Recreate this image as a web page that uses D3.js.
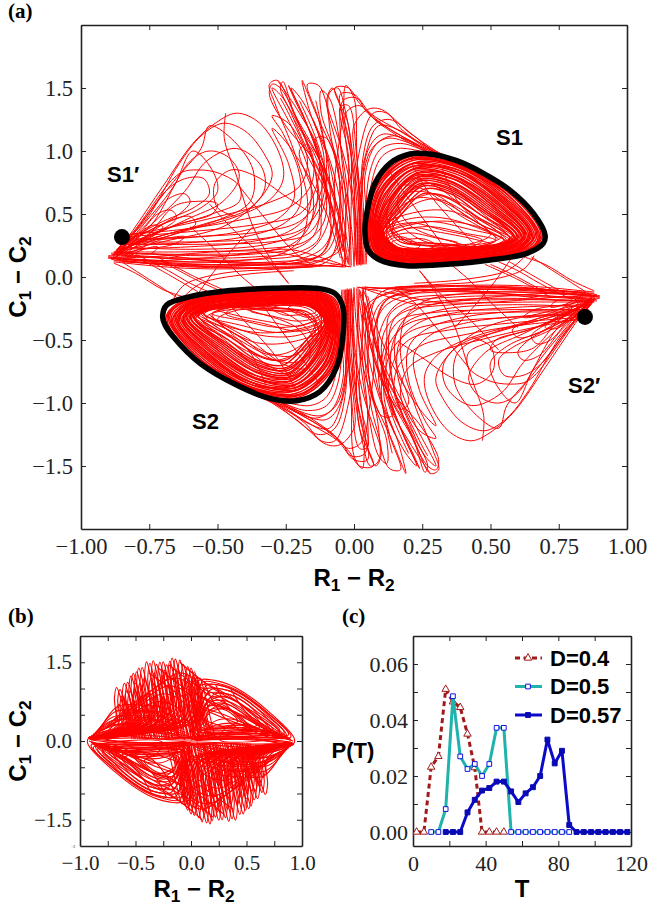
<!DOCTYPE html>
<html>
<head>
<meta charset="utf-8">
<script src="https://cdn.jsdelivr.net/npm/d3@7"></script>
<style>
html,body{margin:0;padding:0;background:#fff;}
svg{display:block;}
</style>
</head>
<body>
<div id="svgArea"></div>
<script>
// (c) waiting time distributions
const t04 = [2,6,10,14,18,22,26,30,34,38,42,46,50];
const p04 = [0,0,0.0232,0.027,0.051,0.0465,0.0445,0.035,0.023,0,0,0,0];
const t05 = [10,14,18,22,26,30,34,38,42,46,50,54,58,62,66,70,74,78,82,86];
const p05 = [0,0,0.0082,0.0485,0.027,0.0225,0.0243,0.02,0.0243,0.0372,0.0372,0,0,0,0,0,0,0,0,0];
const t057 = [18,22,26,30,34,38,42,46,50,54,58,62,66,70,74,78,82,86,90,94,98,102,106,110,114,118];
const p057 = [0,0,0,0.007,0.0115,0.0148,0.0157,0.018,0.018,0.0145,0.0107,0.0138,0.016,0.02,0.033,0.0245,0.029,0.0025,0,0,0,0,0,0,0,0];

// (a) black orbits and the two saddle points
const s1Black = [[.04,.373],[.049,.532],[.077,.744],[.132,.902],[.205,.976],[.278,.976],[.376,.923],[.474,.823],[.571,.69],[.657,.505],[.7,.333],[.693,.267],[.633,.188],[.498,.135],[.34,.101],[.193,.09],[.095,.135],[.052,.214]];
const s2Black = [[-.701,-.315],[-.686,-.222],[-.601,-.156],[-.454,-.108],[-.296,-.09],[-.137,-.09],[-.07,-.13],[-.041,-.236],[-.041,-.474],[-.063,-.712],[-.125,-.91],[-.21,-.982],[-.308,-.963],[-.43,-.857],[-.564,-.685],[-.662,-.474],[-.692,-.381]];
const saddles = [[-.85,.317],[.846,-.317]];

const rimLoops = [
 [[.055,.37],[.085,.73],[.21,.945],[.38,.895],[.565,.67],[.685,.33],[.625,.195],[.34,.115],[.19,.105],[.075,.18]],
 [[.06,.38],[.09,.71],[.215,.925],[.38,.875],[.55,.655],[.67,.33],[.615,.205],[.34,.125],[.19,.12],[.085,.19]],
 [[.065,.37],[.1,.69],[.21,.9],[.37,.86],[.54,.64],[.66,.33],[.61,.21],[.34,.135],[.19,.13],[.09,.2]],
 [[.075,.38],[.105,.67],[.22,.88],[.37,.84],[.53,.63],[.65,.33],[.6,.22],[.34,.145],[.19,.14],[.095,.21]],
 [[.08,.37],[.115,.65],[.22,.86],[.37,.82],[.52,.61],[.64,.33],[.59,.225],[.34,.155],[.19,.15],[.1,.22]],
 [[.085,.38],[.125,.63],[.225,.84],[.365,.8],[.51,.6],[.63,.33],[.58,.235],[.34,.165],[.19,.16],[.105,.23]],
 [[.09,.37],[.135,.61],[.23,.82],[.36,.78],[.5,.58],[.62,.33],[.57,.24],[.34,.175],[.19,.17],[.11,.24]],
 [[.095,.38],[.14,.58],[.235,.79],[.36,.75],[.49,.56],[.61,.33],[.56,.25],[.34,.185],[.19,.18],[.115,.25]],
 [[.1,.37],[.15,.55],[.24,.76],[.355,.72],[.48,.54],[.6,.32],[.55,.255],[.33,.195],[.19,.19],[.12,.26]],
 [[.105,.36],[.16,.53],[.25,.72],[.35,.68],[.47,.52],[.585,.32],[.54,.26],[.33,.21],[.2,.2],[.125,.27]],
 [[.058,.4],[.08,.7],[.2,.93],[.39,.88],[.56,.66],[.675,.32],[.62,.19],[.36,.12],[.2,.11],[.08,.19]],
 [[.07,.4],[.11,.7],[.2,.87],[.38,.85],[.525,.625],[.645,.34],[.595,.21],[.36,.14],[.2,.135],[.09,.21]],
 [[.088,.4],[.13,.62],[.24,.8],[.375,.77],[.505,.57],[.625,.32],[.575,.225],[.36,.17],[.2,.165],[.105,.22]],
 [[.098,.34],[.15,.56],[.26,.74],[.36,.7],[.475,.53],[.595,.33],[.545,.245],[.35,.2],[.2,.185],[.115,.24]],
 [[.052,.36],[.082,.74],[.205,.955],[.385,.905],[.57,.68],[.69,.34],[.63,.19],[.35,.11],[.19,.098],[.07,.175]],
 [[.062,.35],[.095,.72],[.2,.935],[.375,.885],[.555,.665],[.68,.32],[.62,.2],[.33,.12],[.18,.112],[.08,.185]],
 [[.068,.39],[.098,.7],[.225,.91],[.385,.865],[.545,.645],[.665,.34],[.608,.215],[.35,.13],[.2,.125],[.088,.195]],
 [[.073,.35],[.108,.68],[.205,.89],[.36,.85],[.535,.635],[.655,.32],[.603,.213],[.33,.14],[.18,.135],[.093,.205]],
 [[.078,.39],[.112,.66],[.23,.87],[.38,.83],[.525,.62],[.645,.34],[.595,.222],[.35,.15],[.2,.145],[.098,.215]],
 [[.083,.36],[.12,.64],[.215,.85],[.36,.81],[.515,.605],[.635,.32],[.585,.23],[.33,.16],[.18,.155],[.103,.225]],
 [[.088,.385],[.13,.62],[.235,.83],[.37,.79],[.505,.59],[.625,.34],[.575,.237],[.35,.17],[.2,.165],[.108,.235]],
 [[.093,.36],[.138,.6],[.225,.805],[.35,.765],[.495,.57],[.615,.32],[.565,.245],[.33,.18],[.18,.175],[.113,.245]],
 [[.098,.38],[.145,.57],[.245,.775],[.36,.735],[.485,.55],[.605,.335],[.555,.25],[.345,.19],[.2,.185],[.118,.255]],
 [[.103,.35],[.155,.54],[.24,.74],[.345,.7],[.475,.53],[.59,.31],[.545,.258],[.325,.205],[.19,.195],[.123,.265]],
 [[.108,.37],[.165,.51],[.26,.7],[.355,.66],[.46,.5],[.58,.33],[.535,.262],[.34,.215],[.205,.205],[.128,.275]],
 [[.11,.34],[.17,.49],[.25,.66],[.34,.63],[.45,.48],[.57,.31],[.53,.265],[.32,.22],[.195,.21],[.13,.28]]
];
const innerLoops = [
 [[.11,.33],[.16,.4],[.28,.44],[.42,.38],[.55,.3],[.5,.24],[.33,.21],[.18,.21],[.12,.25]],
 [[.12,.32],[.17,.37],[.28,.4],[.4,.35],[.52,.29],[.46,.245],[.3,.225],[.18,.225],[.13,.26]],
 [[.13,.29],[.17,.32],[.22,.28],[.24,.24],[.18,.22],[.14,.24]],
 [[.12,.3],[.2,.35],[.3,.31],[.38,.27],[.3,.23],[.17,.23],[.12,.26]],
 [[.12,.5],[.17,.72],[.25,.7],[.38,.5],[.52,.3],[.47,.25],[.3,.24],[.17,.3]],
 [[.14,.42],[.22,.62],[.32,.6],[.46,.42],[.57,.29],[.52,.24],[.35,.25],[.2,.28]],
 [[.13,.58],[.2,.78],[.3,.72],[.42,.52],[.56,.28],[.5,.22],[.3,.22],[.16,.26],[.12,.38]],
 [[.15,.5],[.28,.66],[.38,.6],[.5,.44],[.6,.28],[.56,.23],[.4,.24],[.24,.3]],
 [[.12,.42],[.24,.52],[.36,.52],[.48,.4],[.58,.3],[.5,.22],[.34,.26],[.18,.3]],
 [[.1,.36],[.2,.46],[.32,.47],[.44,.4],[.56,.27],[.45,.2],[.28,.19],[.14,.22]],
 [[.14,.36],[.2,.55],[.3,.62],[.42,.5],[.54,.32],[.46,.26],[.28,.27],[.17,.28]],
 [[.13,.44],[.19,.66],[.29,.66],[.4,.5],[.5,.34],[.44,.27],[.27,.25],[.16,.29]],
 [[.12,.34],[.22,.42],[.36,.44],[.5,.36],[.56,.26],[.42,.21],[.25,.2],[.14,.24]],
 [[.12,.37],[.2,.43],[.33,.37],[.47,.29],[.4,.225],[.24,.21],[.14,.25]],
 [[.125,.3],[.2,.39],[.3,.36],[.44,.3],[.5,.26],[.34,.22],[.18,.215]],
 [[.14,.28],[.2,.3],[.26,.3],[.3,.25],[.22,.21],[.15,.23]],
 [[.16,.62],[.24,.78],[.34,.74],[.44,.56],[.58,.27],[.5,.22],[.36,.28],[.2,.42]]
];
// (a) loops out of the S1' tip, closed back on it
const flareLoops = [
 [[-.88,.16],[-.81,.37],[-.7,.72],[-.59,1.06],[-.515,1.21],[-.43,1.3],[-.345,1.22],[-.27,.96],[-.26,.77],[-.31,.61],[-.43,.48],[-.61,.37],[-.8,.24]],
 [[-.87,.17],[-.79,.4],[-.66,.76],[-.56,1.02],[-.53,1.2],[-.45,1.1],[-.37,.85],[-.38,.6],[-.5,.45],[-.7,.33],[-.85,.22]],
 [[-.86,.2],[-.77,.42],[-.66,.72],[-.59,1],[-.52,.85],[-.5,.68],[-.56,.55],[-.72,.4],[-.86,.22]],
 [[-.87,.18],[-.78,.42],[-.69,.68],[-.62,.78],[-.55,.78],[-.53,.66],[-.58,.56],[-.72,.42],[-.86,.24]],
 [[-.86,.22],[-.76,.42],[-.68,.62],[-.62,.66],[-.6,.6],[-.64,.5],[-.74,.38],[-.85,.26]],
 [[-.87,.19],[-.78,.36],[-.72,.5],[-.67,.53],[-.65,.47],[-.7,.38],[-.84,.25]],
 [[-.85,.24],[-.78,.36],[-.74,.41],[-.7,.4],[-.74,.32],[-.84,.25]],
 [[-.88,.17],[-.8,.38],[-.64,.82],[-.57,.85],[-.49,.82],[-.42,.72],[-.42,.6],[-.52,.5],[-.72,.36],[-.86,.2]],
 [[-.87,.16],[-.78,.34],[-.62,.68],[-.54,.92],[-.43,1.02],[-.34,.88],[-.33,.68],[-.46,.42],[-.7,.28],[-.85,.2]],
 [[-.88,.18],[-.76,.46],[-.64,.9],[-.56,1.12],[-.48,1.22],[-.4,1.16],[-.33,.98],[-.3,.8],[-.38,.55],[-.55,.42],[-.78,.28]],
 [[-.86,.18],[-.74,.42],[-.6,.92],[-.53,1],[-.46,.95],[-.42,.8],[-.48,.6],[-.62,.45],[-.82,.24]],
 [[-.85,.17],[-.75,.34],[-.66,.56],[-.58,.6],[-.5,.58],[-.52,.5],[-.64,.42],[-.84,.22]],
 [[-.86,.2],[-.78,.3],[-.68,.44],[-.6,.48],[-.58,.42],[-.66,.34],[-.84,.23]],
 [[-.84,.17],[-.76,.25],[-.7,.3],[-.62,.32],[-.66,.26],[-.82,.2]],
 [[-.83,.16],[-.77,.22],[-.72,.24],[-.74,.19],[-.82,.18]]
];
// (a) strands: tip, along the band, up a finger and back down to the centre
const fingerStrands = [
 [[-.9,.16],[-.65,.11],[-.4,.1],[-.22,.13],[-.11,.24],[-.07,.5],[-.09,.9],[-.16,1.3],[-.19,1.56],[-.14,1.3],[-.05,.85],[-.01,.4],[0,.08]],
 [[-.88,.2],[-.6,.17],[-.38,.18],[-.2,.24],[-.14,.36],[-.13,.7],[-.18,1.1],[-.27,1.5],[-.3,1.53],[-.31,1.45],[-.25,1.2],[-.14,.9],[-.08,.5],[-.05,.2],[-.03,.08]],
 [[-.86,.24],[-.58,.22],[-.32,.26],[-.18,.38],[-.135,.6],[-.16,1],[-.22,1.3],[-.26,1.55],[-.27,1.5],[-.2,1.2],[-.12,.9],[-.06,.5],[-.03,.12]],
 [[-.87,.14],[-.6,.08],[-.3,.08],[-.1,.12],[-.06,.3],[-.05,.7],[-.09,1.2],[-.09,1.46],[-.06,1.5],[-.03,1.3],[0,.9],[.02,.5],[.03,.1]],
 [[-.89,.18],[-.62,.14],[-.35,.14],[-.17,.2],[-.1,.4],[-.09,.8],[-.13,1.25],[-.17,1.53],[-.13,1.52],[-.09,1.3],[-.03,.9],[0,.5],[.01,.12]],
 [[-.88,.13],[-.62,.09],[-.32,.1],[-.14,.15],[-.09,.3],[-.1,.7],[-.17,1.2],[-.24,1.52],[-.22,1.42],[-.15,1.1],[-.08,.7],[-.04,.35],[-.02,.1]],
 [[-.87,.2],[-.6,.2],[-.36,.22],[-.18,.28],[-.11,.44],[-.11,.8],[-.18,1.25],[-.23,1.5],[-.19,1.4],[-.1,1],[-.05,.6],[-.02,.2]],
 [[-.86,.15],[-.58,.12],[-.3,.12],[-.12,.18],[-.08,.36],[-.07,.8],[-.04,1.3],[-.03,1.52],[0,1.42],[.01,1],[.02,.5],[.02,.1]],
 [[-.83,.32],[-.6,.36],[-.35,.42],[-.2,.5],[-.14,.7],[-.13,1],[-.2,1.3],[-.28,1.56]],
 [[-.82,.3],[-.58,.32],[-.34,.36],[-.2,.44],[-.13,.62],[-.11,.95],[-.15,1.25]],
 [[-.83,.28],[-.56,.28],[-.32,.31],[-.19,.38],[-.125,.55],[-.1,.9],[-.12,1.2],[-.14,1.4]],
 [[-.82,.34],[-.62,.38],[-.4,.46],[-.24,.55],[-.16,.72],[-.15,.95],[-.22,1.25]],
 [[-.89,.15],[-.7,.11],[-.4,.07],[-.16,.08],[-.05,.1]],
 [[-.9,.17],[-.7,.15],[-.42,.12],[-.18,.1],[-.03,.08]],
 [[-.9,.15],[-.66,.12],[-.42,.13],[-.26,.19],[-.19,.32],[-.17,.6],[-.22,1],[-.29,1.38],[-.31,1.53],[-.28,1.56],[-.22,1.3],[-.13,.95],[-.06,.55],[-.03,.1]],
 [[-.88,.12],[-.62,.07],[-.34,.07],[-.16,.1],[-.07,.2],[-.04,.55],[-.06,1],[-.1,1.4],[-.08,1.5],[-.05,1.35],[-.02,.9],[.01,.4],[.015,.09]],
 [[-.87,.22],[-.6,.24],[-.38,.28],[-.24,.36],[-.17,.5],[-.16,.78],[-.22,1.15],[-.3,1.5],[-.26,1.42],[-.18,1.05],[-.1,.7],[-.05,.3],[-.02,.1]],
 [[-.89,.14],[-.65,.09],[-.38,.09],[-.2,.12],[-.1,.2],[-.06,.42],[-.06,.9],[-.12,1.3],[-.12,1.48],[-.09,1.42],[-.05,1.05],[-.02,.6],[-.01,.09]],
 [[-.86,.26],[-.62,.27],[-.4,.32],[-.26,.42],[-.2,.56],[-.2,.82],[-.26,1.14],[-.3,1.28],[-.24,1.22],[-.16,.92],[-.09,.6],[-.04,.2]],
 [[-.84,.29],[-.62,.31],[-.42,.36],[-.28,.46],[-.22,.62],[-.24,.9],[-.3,1.18],[-.26,1.1],[-.18,.85],[-.1,.5],[-.05,.15]],
 [[-.85,.12],[-.6,.1],[-.28,.1],[-.13,.13],[-.05,.22],[-.03,.5],[-.02,.95],[-.05,1.35],[-.02,1.36],[.01,.95],[.025,.5],[.025,.09]],
 [[-.87,.18],[-.6,.15],[-.36,.16],[-.2,.2],[-.13,.3],[-.12,.5],[-.12,.85],[-.14,1.1],[-.1,1.1],[-.05,.75],[-.02,.4],[-.015,.08]],
 [[-.86,.19],[-.6,.18],[-.34,.2],[-.22,.27],[-.16,.42],[-.15,.65],[-.2,1],[-.17,1.05],[-.1,.7],[-.06,.35],[-.04,.08]],
 [[-.83,.33],[-.66,.4],[-.46,.5],[-.3,.6],[-.2,.72],[-.17,.92],[-.24,1.3],[-.27,1.42]],
 [[-.82,.26],[-.55,.26],[-.3,.28],[-.17,.34],[-.12,.5],[-.1,.75],[-.14,1.1],[-.2,1.4]],
 [[-.9,.16],[-.75,.13],[-.5,.16],[-.34,.2],[-.24,.22],[-.1,.14],[-.02,.08]],
 [[-.9,.15],[-.75,.16],[-.5,.2],[-.3,.2],[-.14,.13],[-.01,.08]],
 [[-.89,.19],[-.72,.18],[-.5,.12],[-.3,.1],[-.12,.09],[-.04,.08]]
];
// (a) strands that peel off the top of the fingers on to S1
const capStrands = [
 [[.02,.1],[.03,.5],[0,1],[0,1.2],[.05,1.33],[.1,1.33],[.2,1.15],[.3,1],[.4,.87],[.55,.68]],
 [[.01,.1],[.01,.6],[-.02,1.1],[-.05,1.45],[0,1.45],[.06,1.3],[.15,1.18],[.28,1.02],[.38,.92]],
 [[.03,.1],[.035,.5],[.03,.9],[.07,1.2],[.13,1.25],[.22,1.12],[.3,.98],[.42,.84]],
 [[.025,.1],[.025,.5],[.05,1],[.1,1.13],[.18,1.1],[.28,.98]],
 [[.02,.1],[.02,.5],[.06,1],[.12,1.1],[.22,1.05],[.36,.92]],
 [[.015,.1],[.015,.5],[.04,.95],[.09,1.2],[.16,1.17],[.26,1.03],[.4,.9],[.56,.68]],
 [[-.02,.12],[-.01,.6],[-.02,1.2],[-.07,1.5],[-.02,1.5],[.02,1.38],[.1,1.22],[.24,1.04]],
 [[0,.09],[.005,.5],[-.01,.95],[-.03,1.3],[.02,1.36],[.08,1.24],[.16,1.12],[.26,1],[.36,.92]],
 [[.04,.1],[.045,.5],[.04,.8],[.08,1.05],[.14,1.12],[.2,1.08],[.3,.96],[.44,.82]],
 [[.035,.1],[.04,.4],[.06,.85],[.1,1.02],[.17,1.06],[.26,1],[.38,.88]],
 [[.045,.1],[.05,.35],[.06,.7],[.1,.95],[.16,1.02],[.24,1]],
 [[-.035,.1],[-.03,.6],[-.05,1.1],[-.04,1.4],[.01,1.42],[.05,1.3],[.14,1.16],[.3,.98]],
 [[.01,.09],[0,.5],[.02,1],[.07,1.3],[.12,1.3],[.18,1.16],[.32,.96],[.5,.74]]
];
// (a) lines that cross the band on the far side
const crossStrands = [
 [[-.85,.12],[-.75,-.02],[-.65,-.16]],
 [[-.78,.14],[-.68,.02],[-.57,-.12]],
 [[-.72,.16],[-.6,.02],[-.48,-.1]],
 [[-.37,.4],[-.5,.08],[-.58,-.16]],
 [[-.53,.58],[-.43,.35],[-.31,.12],[-.24,-.05]],
 [[-.66,-.17],[-.62,-.06],[-.48,.03],[-.3,.06],[-.15,.08]],
 [[-.62,-.15],[-.56,-.05],[-.4,.02],[-.22,.05]],
 [[-.43,.48],[-.5,.55],[-.51,.74],[-.45,.85],[-.36,.8],[-.25,.64],[-.16,.51]],
 [[-.47,1.3],[-.475,1.1],[-.43,.8],[-.37,.4],[-.31,.16],[-.24,-.05]],
 [[.126,.85],[.2,.62],[.34,.21]],
 [[.21,.9],[.29,.62],[.45,.24]],
 [[.32,.88],[.38,.6],[.53,.3]],
 [[-.8,.18],[-.68,.05],[-.6,-.05],[-.53,-.12]],
 [[-.7,.12],[-.58,-.02],[-.5,-.1]],
 [[-.88,.11],[-.8,.03],[-.7,-.1],[-.62,-.16]],
 [[-.6,.4],[-.5,.2],[-.42,.02],[-.36,-.09]],
 [[-.42,.72],[-.32,.45],[-.22,.2],[-.15,.09]]
];

// (b) tops of the fingers
const bFingers = [[-.67,1.02],[-.64,.98],[-.6,1.1],[-.57,1.12],[-.54,1.24],[-.52,1.29],[-.49,1.32],[-.47,1.39],[-.44,1.4],[-.4,1.51],[-.37,1.48],[-.34,1.53],[-.31,1.46],[-.28,1.5],[-.25,1.51],[-.22,1.45],[-.19,1.52],[-.17,1.58],[-.14,1.56],[-.1,1.54],[-.07,1.46],[-.03,1.42],[0,1.39],[.03,1.32],[.08,1.2],[-.62,.86],[-.55,.95],[-.46,1.1],[-.36,1.2],[-.26,1.25],[-.16,1.3],[-.06,1.2],[-.65,.7],[-.6,.8],[-.55,.7],[-.5,.95],[-.45,.85],[-.42,1.2],[-.38,.95],[-.33,1.3],[-.3,1.05],[-.24,1.35],[-.2,1.1],[-.12,1.4],[-.1,1.2],[-.04,1.3],[.02,1.25],[.05,1.22],[-.58,.95],[-.5,1.1],[-.35,.8],[-.25,.85],[-.15,.95],[-.05,.9]];
const bTip = [-.92,.06];
// (b) rings of the right lobe
const bLobes = [
 [[.01,.05],[.03,.6],[.07,1.15],[.2,1.16],[.39,1.03],[.69,.58],[.93,.05],[.92,-.06],[.6,.03],[.25,.04]],
 [[.02,.1],[.05,.6],[.08,1.05],[.2,1.08],[.38,.98],[.66,.58],[.88,.12],[.7,.06],[.3,.08]],
 [[.04,.15],[.07,.6],[.12,.98],[.25,1],[.4,.9],[.62,.58],[.84,.15],[.6,.1],[.2,.1]],
 [[.05,.2],[.08,.6],[.15,.9],[.28,.92],[.42,.82],[.6,.55],[.8,.2],[.55,.14],[.2,.14]],
 [[.06,.25],[.1,.55],[.17,.82],[.3,.85],[.42,.75],[.56,.52],[.74,.22],[.5,.18],[.2,.17]],
 [[.08,.3],[.12,.55],[.2,.76],[.32,.76],[.43,.66],[.55,.45],[.68,.24],[.45,.22],[.2,.2]],
 [[.1,.34],[.13,.6],[.22,.72],[.35,.68],[.45,.55],[.55,.38],[.62,.26],[.4,.26],[.2,.23]],
 [[.11,.4],[.16,.66],[.3,.64],[.42,.5],[.5,.33],[.35,.3],[.2,.27]],
 [[.03,.08],[.06,.7],[.1,1.12],[.24,1.1],[.42,.96],[.7,.52],[.9,.08],[.6,.07],[.2,.06]],
 [[.02,.12],[.08,.7],[.14,1.06],[.28,1.05],[.46,.88],[.72,.44],[.86,.1],[.55,.08],[.18,.09]],
 [[.05,.12],[.1,.7],[.18,.98],[.34,.96],[.5,.78],[.7,.4],[.8,.14],[.5,.12],[.15,.12]],
 [[.07,.18],[.12,.65],[.22,.9],[.38,.86],[.52,.68],[.66,.36],[.72,.18],[.45,.15],[.15,.16]],
 [[.09,.24],[.14,.7],[.26,.84],[.4,.76],[.52,.56],[.62,.34],[.5,.24],[.25,.24]],
 [[.26,.02],[.3,.22],[.48,.3],[.66,.2],[.84,.08]],
 [[.14,.5],[.2,.62],[.32,.58],[.42,.38],[.3,.26],[.16,.28]]
];
// (b) long strands, fingers to right tip and tip to tip
const bStrands = [
 [[-.1,1.5],[.1,1.15],[.35,.85],[.6,.45],[.88,.05]],
 [[-.2,1.45],[.02,1.1],[.3,.8],[.55,.45],[.84,.08]],
 [[-.3,1.4],[-.05,1],[.22,.72],[.5,.42],[.8,.08]],
 [[-.02,1.35],[.2,1],[.45,.7],[.7,.36],[.9,.02]],
 [[-.38,1.3],[-.15,.95],[.1,.62],[.4,.35],[.75,.08]],
 [[-.92,.06],[-.5,.12],[-.1,.06],[.3,.05],[.92,-.04]],
 [[-.9,.1],[-.5,.2],[-.15,.1],[.1,.03],[.6,.04],[.9,-.02]],
 [[-.88,.13],[-.55,.26],[-.2,.16],[-.05,.03]],
 [[-.86,.16],[-.6,.34],[-.3,.28],[-.08,.1]],
 [[-.84,.2],[-.6,.42],[-.35,.42],[-.12,.18]],
 [[-.8,.26],[-.6,.5],[-.36,.56],[-.14,.28]],
 [[-.85,.15],[-.55,.5],[-.3,.75],[-.1,.6],[0,.2]],
 [[-.8,.2],[-.5,.62],[-.25,.9],[-.05,.7],[.02,.2]],
 [[-.75,.3],[-.45,.75],[-.2,1.05],[0,.85],[.05,.3]],
 [[-.7,.4],[-.4,.9],[-.15,1.2],[.03,1],[.08,.4]],
 [[-.6,.5],[-.3,1.05],[-.1,1.3],[.05,1.12],[.1,.5]],
 [[.06,.1],[.15,.5],[.3,.62],[.5,.45],[.72,.2],[.88,.03]],
 [[.1,.08],[.2,.36],[.36,.42],[.55,.28],[.78,.1]],
 [[.04,.9],[.2,.7],[.4,.55],[.6,.3],[.85,.05]],
 [[.02,1.1],[.18,.85],[.38,.65],[.6,.35],[.82,.12]],
 [[.12,1.1],[.2,.75],[.3,.45],[.45,.2],[.6,.05]],
 [[.22,1.08],[.3,.75],[.42,.45],[.55,.2],[.72,.06]],
 [[.36,.98],[.44,.7],[.55,.42],[.68,.2],[.82,.04]],
 [[-.92,.06],[-.7,.22],[-.45,.2],[-.2,.22],[-.03,.1]],
 [[-.92,.05],[-.72,.3],[-.5,.3],[-.25,.3],[-.05,.16]],
 [[-.9,.08],[-.72,.38],[-.5,.4],[-.28,.38],[-.06,.22]],
 [[-.88,.1],[-.7,.46],[-.48,.48],[-.26,.46],[-.04,.26]],
 [[-.86,.14],[-.68,.56],[-.46,.58],[-.24,.54],[-.03,.3]],
 [[-.82,.22],[-.66,.66],[-.44,.68],[-.22,.62],[-.01,.34]],
 [[-.91,.03],[-.6,.14],[-.3,.16],[-.1,.12],[.02,.06]],
 [[-.92,.08],[-.6,.1],[-.3,.04],[0,.02],[.3,.1],[.6,.14],[.9,.02]],
 [[-.9,.04],[-.5,.06],[-.2,.04],[.1,.1],[.4,.16],[.7,.12],[.92,0]],
 [[0,.02],[.2,.12],[.45,.2],[.7,.16],[.9,.03]],
 [[.02,.2],[.06,.4],[.02,.7],[0,1],[.04,1.2]],
 [[.04,.08],[0,.4],[-.02,.8],[0,1.1],[.06,1.15]],
 [[.12,.2],[.22,.3],[.38,.34],[.55,.26],[.7,.12]],
 [[.16,.55],[.26,.7],[.38,.56],[.46,.4],[.6,.24]],
 [[.02,.55],[.12,.4],[.25,.3],[.42,.22]],
 [[.02,.8],[.14,.62],[.3,.5],[.5,.32],[.74,.12]]
];

// axis ticks and labels
const aXTicks = [-1,-.75,-.5,-.25,0,.25,.5,.75,1];
const aYTicks = [-1.5,-1,-.5,0,.5,1,1.5];
const bXTicks = [-1,-.75,-.5,-.25,0,.25,.5,.75,1];
const bXLabels = [-1,-.5,0,.5,1];
const bYTicks = [-1.5,-1,-.5,0,.5,1,1.5];
const bYLabels = [-1.5,0,1.5];
const cXTicks = [0,20,40,60,80,100,120];
const cXLabels = [0,40,80,120];
const cYTicks = [0,.01,.02,.03,.04,.05,.06];
const cYLabels = [0,.02,.04,.06];
const legendNames = ["D=0.4","D=0.5","D=0.57"];

const SERIF = "'Liberation Serif',serif";
const SANS = "'Liberation Sans',Arial,sans-serif";
const INK = "#222";

var svg = d3.select("#svgArea").append("svg").attr("width",653).attr("height",909).attr("id","chartSvg");

function drawAxes(xs, ys, xTicks, yTicks, xLabels, yLabels, fmtX, fmtY, fs, padY){
	var x0=ys.range()[0], y0=ys.range()[1], xl=xs.range()[0], xr=xs.range()[1];
	const bottom = d3.axisBottom(xs).tickValues(xTicks).tickSizeInner(-5).tickSizeOuter(0).tickPadding(9)
		.tickFormat(d=>xLabels.includes(d)?fmtX(d):"");
	const left = d3.axisLeft(ys).tickValues(yTicks).tickSizeInner(-5).tickSizeOuter(0).tickPadding(padY)
		.tickFormat(d=>yLabels.includes(d)?fmtY(d):"");
	const top = d3.axisTop(xs).tickValues(xTicks).tickSizeInner(-5).tickSizeOuter(0).tickFormat("");
	const right = d3.axisRight(ys).tickValues(yTicks).tickSizeInner(-5).tickSizeOuter(0).tickFormat("");
	var gs = [
		svg.append("g").attr("transform","translate(0,"+x0+")").call(bottom),
		svg.append("g").attr("transform","translate("+xl+",0)").call(left),
		svg.append("g").attr("transform","translate(0,"+y0+")").call(top),
		svg.append("g").attr("transform","translate("+xr+",0)").call(right)
	];
	gs.forEach(g=>{
		g.selectAll("text").attr("font-family",SERIF).attr("font-size",fs).attr("fill","#222");
		g.selectAll("line").attr("stroke",INK).attr("stroke-width",1);
		g.select(".domain").attr("stroke",INK).attr("stroke-width",1.6);
	});
}

function label(x,y,txt,family,size,weight,anchor){
	return svg.append("text").attr("x",x).attr("y",y).attr("font-family",family).attr("font-size",size)
		.attr("font-weight",weight||"bold").attr("text-anchor",anchor||"start").attr("fill","#000").text(txt);
}

// R1 - R2 style title, with real subscripts
function subTitle(x,y,rot,a,b,size){
	var t = svg.append("text").attr("text-anchor","middle").attr("font-family",SANS).attr("font-weight","bold")
		.attr("font-size",size).attr("fill","#000")
		.attr("transform","translate("+x+","+y+") rotate("+rot+")");
	t.append("tspan").text(a);
	t.append("tspan").attr("dy",size*.22).attr("font-size",size*.72).text("1");
	t.append("tspan").attr("dy",-size*.22).text(" \u2212 "+b);
	t.append("tspan").attr("dy",size*.22).attr("font-size",size*.72).text("2");
}

const flip = pts => pts.map(p=>[-p[0],-p[1]]);

/* ---------- panel a ---------- */
const aX = d3.scaleLinear().domain([-1,1]).range([81,627]);
const aY = d3.scaleLinear().domain([-2,2]).range([529,25]);
const aOpen = d3.line().x(d=>aX(d[0])).y(d=>aY(d[1])).curve(d3.curveCatmullRom.alpha(.5));
const aClosed = d3.line().x(d=>aX(d[0])).y(d=>aY(d[1])).curve(d3.curveCatmullRomClosed.alpha(.5));

var aRed = svg.append("g").attr("fill","none").attr("stroke","#ff0000").attr("stroke-width",1);
rimLoops.forEach(p=>{
	aRed.append("path").attr("d",aClosed(p)).attr("stroke-width",1.4);
	aRed.append("path").attr("d",aClosed(flip(p))).attr("stroke-width",1.4);
});
innerLoops.concat(flareLoops).forEach(p=>{
	aRed.append("path").attr("d",aClosed(p));
	aRed.append("path").attr("d",aClosed(flip(p)));
});
fingerStrands.concat(capStrands,crossStrands).forEach(p=>{
	aRed.append("path").attr("d",aOpen(p));
	aRed.append("path").attr("d",aOpen(flip(p)));
});
[s1Black,s2Black].forEach(p=>{
	svg.append("path").attr("d",aClosed(p)).attr("fill","none").attr("stroke","#000").attr("stroke-width",5.5);
});
svg.selectAll("circle.saddle").data(saddles).enter().append("circle").attr("class","saddle")
	.attr("r",8).attr("cx",d=>aX(d[0])).attr("cy",d=>aY(d[1])).attr("fill","#000");

drawAxes(aX,aY,aXTicks,aYTicks,aXTicks,aYTicks,d3.format(".2f"),d3.format(".1f"),22.5,8);
label(8,18,"(a)",SERIF,21);
label(496,145,"S1",SANS,22);
label(107,182,"S1\u2032",SANS,22);
label(192,429,"S2",SANS,22);
label(568,393,"S2\u2032",SANS,22);
subTitle(354,586,0,"R","R",24);
subTitle(26,277,-90,"C","C",24);

/* ---------- panel b ---------- */
const bX = d3.scaleLinear().domain([-1,1]).range([80,302]);
const bY = d3.scaleLinear().domain([-2,2]).range([846,636]);
const bOpen = d3.line().x(d=>bX(d[0])).y(d=>bY(d[1])).curve(d3.curveCatmullRom.alpha(.5));
const bClosed = d3.line().x(d=>bX(d[0])).y(d=>bY(d[1])).curve(d3.curveCatmullRomClosed.alpha(.5));

var bRed = svg.append("g").attr("fill","none").attr("stroke","#ff0000").attr("stroke-width",1.1);
bFingers.forEach(f=>{
	var r=f[0], c=f[1];
	var p=[bTip,[(r+bTip[0])/2,.14],[r-.01,c*.35],[r-.02,c*.8],f,[r+.03,c*.85],[r+.09,c*.4],[r+.14,.04]];
	bRed.append("path").attr("d",bOpen(p));
	bRed.append("path").attr("d",bOpen(flip(p)));
});
bLobes.forEach(p=>{
	bRed.append("path").attr("d",bClosed(p));
	bRed.append("path").attr("d",bClosed(flip(p)));
});
bStrands.forEach(p=>{
	bRed.append("path").attr("d",bOpen(p));
	bRed.append("path").attr("d",bOpen(flip(p)));
});

drawAxes(bX,bY,bXTicks,bYTicks,bXLabels,bYLabels,d3.format(".1f"),d3.format(".1f"),21,8);
label(8,623,"(b)",SERIF,21);
label(71,848,"\u22122",SERIF,4,"normal");
subTitle(194,897,0,"R","R",24);
subTitle(26,741,-90,"C","C",24);

/* ---------- panel c ---------- */
const cX = d3.scaleLinear().domain([0,120]).range([413,631]);
const cY = d3.scaleLinear().domain([-.005,.07]).range([846,636]);
const cLine = d3.line().x(d=>cX(d[0])).y(d=>cY(d[1]));

drawAxes(cX,cY,cXTicks,cYTicks,cXLabels,cYLabels,d3.format("d"),d3.format(".2f"),22,5);

function drawSeries(ts,ps,color,dash,symbol,size,fill,edge,name,row){
	var pts = ts.map((t,i)=>[t,ps[i]]);
	svg.append("path").attr("d",cLine(pts)).attr("fill","none").attr("stroke",color).attr("stroke-width",3)
		.attr("stroke-dasharray",dash).attr("stroke-linejoin","round");
	var sym = d3.symbol().type(symbol).size(size);
	svg.append("g").selectAll("path").data(pts).enter().append("path").attr("d",sym)
		.attr("transform",d=>"translate("+cX(d[0])+","+cY(d[1])+")")
		.attr("fill",fill).attr("stroke",edge).attr("stroke-width",1);
	// legend row
	var ly = 658+row*28.5;
	svg.append("line").attr("x1",515).attr("x2",542).attr("y1",ly).attr("y2",ly)
		.attr("stroke",color).attr("stroke-width",3).attr("stroke-dasharray",dash);
	svg.append("path").attr("d",sym).attr("transform","translate(528,"+ly+")").attr("fill",fill).attr("stroke",edge).attr("stroke-width",1);
	label(550,ly+7.5,name,SANS,22);
}
drawSeries(t04,p04,"#a01a1a","5 3.5",d3.symbolTriangle,24,"#fff","#a01a1a",legendNames[0],0);
drawSeries(t05,p05,"#1fb3ad",null,d3.symbolSquare,22,"#fff","#1212e0",legendNames[1],1);
drawSeries(t057,p057,"#0a0ac8",null,d3.symbolSquare,24,"#0a0ab4","#0a0ab4",legendNames[2],2);

label(342,623,"(c)",SERIF,21);
label(353,758,"P(T)",SANS,22,"bold","middle");
label(522,897,"T",SANS,24,"bold","middle");
</script>
</body>
</html>
